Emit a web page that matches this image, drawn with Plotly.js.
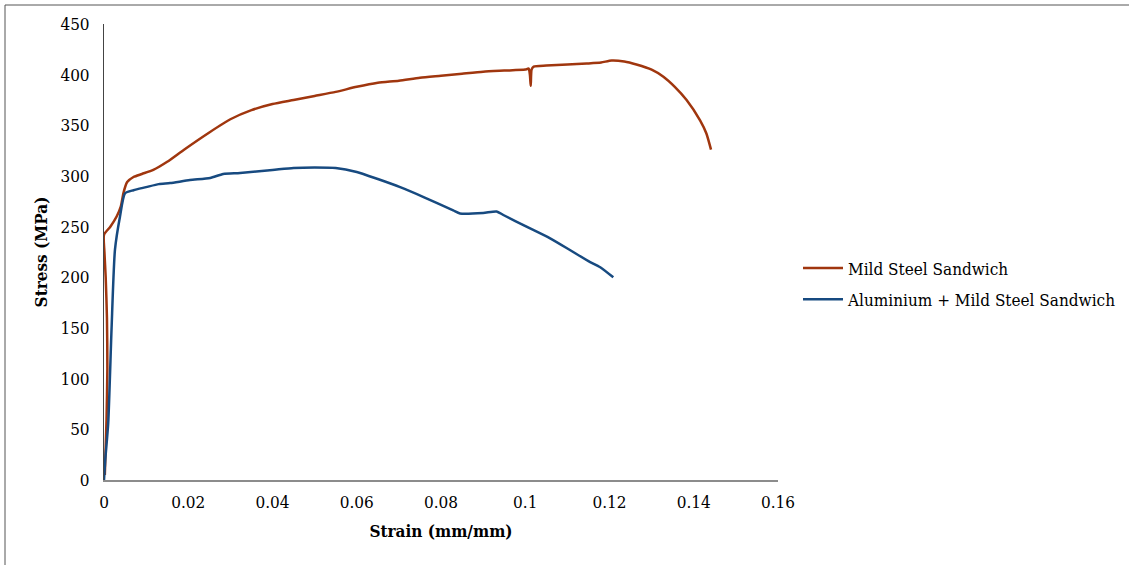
<!DOCTYPE html>
<html>
<head>
<meta charset="utf-8">
<script src="https://cdn.plot.ly/plotly-3.0.1.min.js"></script>
<style>
html,body{margin:0;padding:0;background:#fff;}
#chart{width:1129px;height:565px;}
</style>
</head>
<body>
<div id="chart"></div>
<script>
const seriesNames = ["Mild Steel Sandwich", "Aluminium + Mild Steel Sandwich"];

const steelStrain = [0.0002, 0.0006, 0.0008, 0.0007, 0.0004, 0.0001, 0.0000, 0.0015, 0.0030, 0.0040, 0.0046, 0.0055, 0.0070, 0.0090, 0.0117, 0.0150, 0.0190, 0.0250, 0.0300, 0.0350, 0.0400, 0.0450, 0.0500, 0.0550, 0.0600, 0.0650, 0.0700, 0.0750, 0.0800, 0.0850, 0.0900, 0.0950, 0.1000, 0.1008, 0.1011, 0.1013, 0.1015, 0.1020, 0.1050, 0.1100, 0.1146, 0.1180, 0.1205, 0.1235, 0.1264, 0.1300, 0.1328, 0.1355, 0.1383, 0.1415, 0.1430, 0.1441];
const steelStress = [5, 60, 110, 160, 200, 225, 242, 250, 260, 270, 283, 294, 299, 302, 306, 314, 326, 343, 356, 365, 371, 375, 379, 383, 388, 392, 394, 397, 399, 401, 403, 404, 405, 406, 400, 389, 405, 408, 409, 410, 411, 412, 414, 413, 410, 405, 398, 388, 375, 355, 342, 326];

const aluStrain = [0.0000, 0.0003, 0.0010, 0.0018, 0.0026, 0.0038, 0.0050, 0.0070, 0.0100, 0.0130, 0.0157, 0.0204, 0.0252, 0.0283, 0.0323, 0.0400, 0.0450, 0.0500, 0.0550, 0.0600, 0.0650, 0.0703, 0.0760, 0.0829, 0.0845, 0.0900, 0.0932, 0.0948, 0.1003, 0.1059, 0.1106, 0.1150, 0.1178, 0.1209];
const aluStress = [0, 20, 56, 150, 227, 260, 283, 286, 289, 292, 293, 296, 298, 302, 303, 306, 308, 308.5, 308, 304, 297, 289, 279, 266, 263, 263.5, 265, 261.5, 250, 238.5, 227, 216, 210, 200];

const xTicks = [0, 0.02, 0.04, 0.06, 0.08, 0.1, 0.12, 0.14, 0.16];
const xTickLabels = ["0", "0.02", "0.04", "0.06", "0.08", "0.1", "0.12", "0.14", "0.16"];
const yTicks = [0, 50, 100, 150, 200, 250, 300, 350, 400, 450];

const font = "DejaVu Serif Condensed, DejaVu Serif, serif";
const fs = 17;

const traces = [
  {x: steelStrain, y: steelStress, name: seriesNames[0], legendgroup: "a", type: "scatter", mode: "lines",
   line: {color: "#A0360E", width: 2.5, shape: "spline", smoothing: 0.6}},
  {x: aluStrain, y: aluStress, name: seriesNames[1], legendgroup: "b", type: "scatter", mode: "lines",
   line: {color: "#174A80", width: 2.5, shape: "spline", smoothing: 0.6}}
];

const layout = {
  width: 1129, height: 565,
  margin: {l: 104, r: 351, t: 24, b: 85, autoexpand: false},
  paper_bgcolor: "#fff", plot_bgcolor: "#fff",
  font: {family: font, size: fs, color: "#000"},
  showlegend: true,
  legend: {xref: "container", yref: "container", x: 798/1129, y: 1 - 284/565, xanchor: "left", yanchor: "middle", traceorder: "grouped",
           font: {family: font, size: fs, color: "#000"}, tracegroupgap: 6,
           itemwidth: 40, bgcolor: "rgba(0,0,0,0)"},
  xaxis: {range: [0, 0.16], tickvals: xTicks, ticktext: xTickLabels, showgrid: false, zeroline: false,
          showline: true, linecolor: "#8c8c8c", linewidth: 1.5, ticks: "", ticklabelstandoff: 6,
          tickfont: {family: font, size: fs}, fixedrange: true,
          title: {text: "<b>Strain (mm/mm)</b>", font: {family: font, size: fs}, standoff: 14}},
  yaxis: {range: [0, 450], tickvals: yTicks, showgrid: false, zeroline: false,
          showline: true, linecolor: "#444", linewidth: 1, ticks: "", ticklabelstandoff: 10,
          tickfont: {family: font, size: fs}, fixedrange: true,
          title: {text: "<b>Stress (MPa)</b>", font: {family: font, size: fs}, standoff: 8}},
  shapes: [
    {type: "line", xref: "paper", yref: "paper", x0: (5-104)/674, x1: (1129-104)/674, y0: (480-5)/456, y1: (480-5)/456, line: {color: "#555", width: 1}},
    {type: "line", xref: "paper", yref: "paper", x0: (5-104)/674, x1: (5-104)/674, y0: (480-5)/456, y1: (480-565)/456, line: {color: "#555", width: 1}}
  ]
};

Plotly.newPlot("chart", traces, layout, {displayModeBar: false, staticPlot: true});
</script>
</body>
</html>
